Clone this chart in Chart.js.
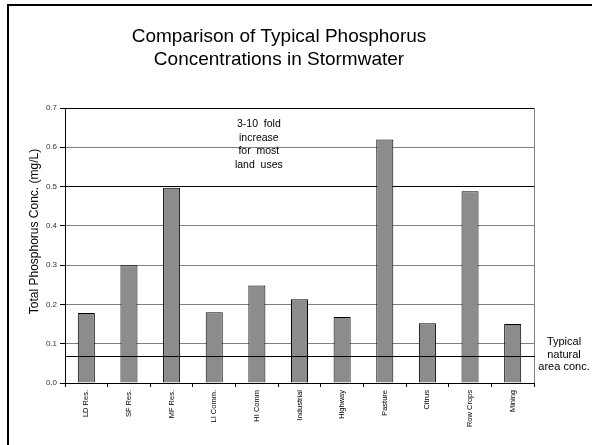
<!DOCTYPE html>
<html>
<head>
<meta charset="utf-8">
<script src="https://cdn.jsdelivr.net/npm/chart.js@4"></script>
<style>
html,body{margin:0;padding:0;background:#fff;}
#wrap{width:592px;height:445px;position:relative;}
</style>
</head>
<body>
<div id="wrap"><canvas id="c" width="592" height="445"></canvas></div>
<script>
const categories = ["LD Res.", "SF Res.", "MF Res.", "LI Comm.", "HI Comm", "Industrial", "Highway", "Pasture", "Citrus", "Row Crops", "Mining"];
const phosphorus = [0.178, 0.300, 0.497, 0.180, 0.248, 0.213, 0.168, 0.620, 0.152, 0.488, 0.150];
const yTicks = [0.0, 0.1, 0.2, 0.3, 0.4, 0.5, 0.6, 0.7];
const naturalConc = 0.068;
const titleLines = ["Comparison of Typical Phosphorus", "Concentrations in Stormwater"];
const yTitle = "Total Phosphorus Conc. (mg/L)";
const noteLines = ["3-10  fold", "increase", "for  most", "land  uses"];
const naturalLines = ["Typical", "natural", "area conc."];

const FONT = "'Liberation Sans', Arial, sans-serif";

const decor = {
  id: 'decor',
  beforeDraw(chart) {
    const ctx = chart.ctx;
    ctx.save();
    ctx.fillStyle = '#fff';
    ctx.fillRect(0, 0, chart.width, chart.height);
    ctx.strokeStyle = '#000';
    ctx.lineWidth = 2;
    ctx.beginPath();
    ctx.moveTo(8, 445);
    ctx.lineTo(8, 5);
    ctx.lineTo(592, 5);
    ctx.stroke();
    ctx.fillStyle = '#000';
    ctx.textAlign = 'center';
    ctx.textBaseline = 'middle';
    ctx.font = "19px " + FONT;
    titleLines.forEach((t, i) => ctx.fillText(t, 279, 37 + i * 23));
    // y axis title
    ctx.save();
    ctx.translate(35, chart.scales.y.getPixelForValue(0.35) - 14);
    ctx.rotate(-Math.PI / 2);
    ctx.font = "12px " + FONT;
    ctx.fillText(yTitle, 0, 0);
    ctx.restore();
    ctx.restore();
  },
  afterDatasetsDraw(chart) {
    const ctx = chart.ctx;
    const a = chart.chartArea;
    const y = chart.scales.y;
    const x = chart.scales.x;
    ctx.save();
    ctx.strokeStyle = '#808080';
    ctx.lineWidth = 1;
    ctx.beginPath();
    ctx.moveTo(a.right + 0.5, a.top);
    ctx.lineTo(a.right + 0.5, a.bottom);
    ctx.stroke();
    const py = Math.round(y.getPixelForValue(naturalConc)) + 0.5;
    ctx.strokeStyle = '#000';
    ctx.beginPath();
    ctx.moveTo(a.left, py);
    ctx.lineTo(a.right + 1, py);
    ctx.stroke();
    ctx.fillStyle = '#000';
    ctx.textAlign = 'center';
    ctx.textBaseline = 'middle';
    ctx.font = "10.5px " + FONT;
    const nx = x.getPixelForValue(4) + 2;
    const ny0 = y.getPixelForValue(0.662) + 1;
    noteLines.forEach((t, i) => ctx.fillText(t, nx, ny0 + i * 13.8));
    ctx.font = "11px " + FONT;
    const ty0 = y.getPixelForValue(0.104);
    naturalLines.forEach((t, i) => ctx.fillText(t, 564, ty0 + i * 12.5));
    ctx.restore();
  }
};

new Chart(document.getElementById('c'), {
  type: 'bar',
  data: {
    labels: categories,
    datasets: [{
      data: phosphorus,
      backgroundColor: '#8c8c8c',
      borderColor: '#000',
      borderWidth: 1,
      barPercentage: 0.4,
      categoryPercentage: 1.0
    }]
  },
  options: {
    responsive: false,
    animation: false,
    devicePixelRatio: 1,
    layout: { padding: { left: 10, right: 58, top: 108, bottom: 12 } },
    plugins: {
      legend: { display: false },
      tooltip: { enabled: false },
      title: { display: false }
    },
    scales: {
      x: {
        afterFit(s) { s.height = 50; },
        grid: { display: true, offset: true, drawOnChartArea: false, tickLength: 4, color: '#000', tickColor: '#000' },
        border: { display: true, color: '#000', width: 1 },
        ticks: {
          autoSkip: false, minRotation: 90, maxRotation: 90, padding: 3,
          color: '#000', font: { family: FONT, size: 7.5 }
        }
      },
      y: {
        min: 0, max: 0.7,
        afterFit(s) { s.width = 55; },
        afterBuildTicks(s) { s.ticks = yTicks.map(v => ({ value: v })); },
        grid: {
          color: (c) => (c.tick && (Math.abs(c.tick.value - 0.7) < 1e-6 || Math.abs(c.tick.value - 0.5) < 1e-6)) ? '#000' : '#808080',
          tickColor: '#000', tickLength: 5, lineWidth: 1
        },
        border: { display: true, color: '#000', width: 1 },
        ticks: {
          padding: 3, color: '#333', font: { family: FONT, size: 8 },
          callback: (v) => Number(v).toFixed(1)
        },
        title: { display: false }
      }
    }
  },
  plugins: [decor]
});
</script>
</body>
</html>
